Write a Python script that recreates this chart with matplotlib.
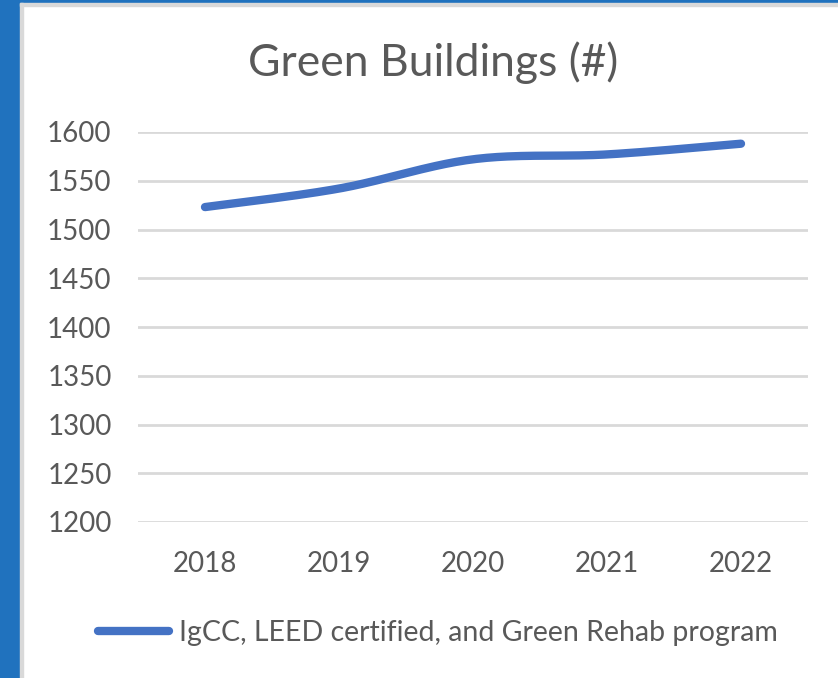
import matplotlib.pyplot as plt
from matplotlib.patches import Rectangle
import numpy as np

# Data
years = ['2018', '2019', '2020', '2021', '2022']
buildings = [1523, 1542, 1572, 1577, 1588]
series_name = 'IgCC, LEED certified, and Green Rehab program'

plt.rcParams['font.family'] = ['Lato', 'DejaVu Sans']
grey = '#595959'
blue = '#4472C4'


def smooth(xs, ys, n=40):
    # Excel-style smoothed line: Catmull-Rom / cubic Bezier through the points
    xs = np.asarray(xs, float)
    ys = np.asarray(ys, float)
    px = np.concatenate([[xs[0]], xs, [xs[-1]]])
    py = np.concatenate([[ys[0]], ys, [ys[-1]]])
    out_x, out_y = [], []
    t = np.linspace(0, 1, n)
    for i in range(1, len(px) - 2):
        p0, p1, p2, p3 = [np.array([px[j], py[j]]) for j in (i - 1, i, i + 1, i + 2)]
        c1 = p1 + (p2 - p0) / 6
        c2 = p2 - (p3 - p1) / 6
        b = ((1 - t) ** 3)[:, None] * p1 + (3 * (1 - t) ** 2 * t)[:, None] * c1 \
            + (3 * (1 - t) * t ** 2)[:, None] * c2 + (t ** 3)[:, None] * p2
        out_x.extend(b[:, 0])
        out_y.extend(b[:, 1])
    return out_x, out_y


fig = plt.figure(figsize=(8.38, 6.78), dpi=100)
fig.patch.set_facecolor('white')

# window frame around the chart
fig.patches.append(Rectangle((0, 0), 20 / 838, 1, transform=fig.transFigure,
                             color='#2072BE', zorder=0))
fig.patches.append(Rectangle((0, 1 - 3 / 678), 1, 3 / 678, transform=fig.transFigure,
                             color='#2072BE', zorder=0))
fig.patches.append(Rectangle((20 / 838, 0), 3 / 838, 1 - 3 / 678, transform=fig.transFigure,
                             color='#D9D9D9', zorder=0))
fig.patches.append(Rectangle((20 / 838, 1 - 6 / 678), 1, 3 / 678, transform=fig.transFigure,
                             color='#D9D9D9', zorder=0))

ax = fig.add_axes([138 / 838, 1 - 522 / 678, 670 / 838, 390 / 678])

x = np.arange(len(years))
sx, sy = smooth(x, buildings)
ax.plot(sx, sy, color=blue, linewidth=6, solid_capstyle='round', label=series_name)

ax.set_xlim(-0.5, len(years) - 0.5)
ax.set_ylim(1200, 1600)
ax.set_yticks(np.arange(1200, 1601, 50))
ax.set_xticks(x)
ax.set_xticklabels(years)
ax.yaxis.grid(True, color='#D9D9D9', linewidth=2)
ax.set_axisbelow(True)
for s in ax.spines.values():
    s.set_visible(False)
ax.tick_params(length=0, labelsize=20, colors=grey)
ax.tick_params(axis='y', pad=19)
ax.tick_params(axis='x', pad=21)

fig.text(0.517, 1 - 63 / 678, 'Green Buildings (#)', ha='center', va='center',
         fontsize=32, color=grey)

fig.legend(loc='center', bbox_to_anchor=(438 / 838, 1 - 633 / 678), frameon=False,
           fontsize=20.5, labelcolor=grey, handlelength=2.5, handletextpad=0.35)

fig.savefig('out.png', dpi=100)
